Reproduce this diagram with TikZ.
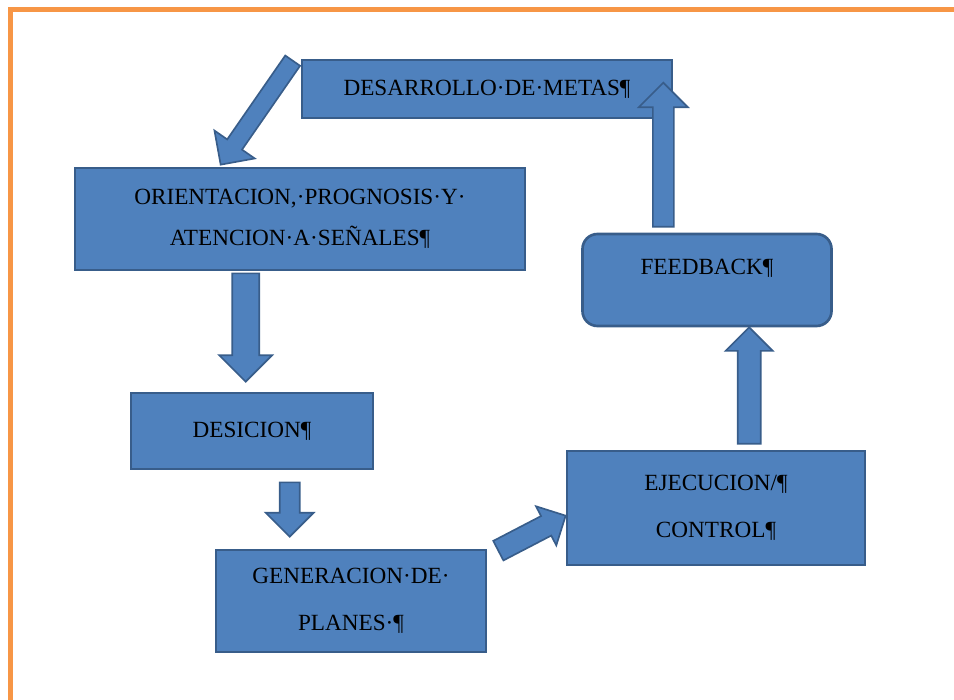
\documentclass[tikz,border=0pt]{standalone}
\usepackage{fontspec}
\setmainfont{Liberation Serif}
\usetikzlibrary{calc}
\definecolor{boxblue}{RGB}{79,129,189}
\definecolor{boxline}{RGB}{56,93,138}
\definecolor{frameorange}{RGB}{247,150,70}
\tikzset{
  barrow/.style 2 args={fill=boxblue,draw=boxline,line width=0.5mm,line join=miter,
    to path={let \p1=(\tikztostart), \p2=(\tikztotarget),
      \p3=($(\p2)!#2/2!(\p1)$) in
      ($(\p1)!#1/2!90:(\p2)$) -- ($(\p3)!#1/2!90:(\p2)$) -- ($(\p3)!#2/2!90:(\p2)$)
      -- (\p2) -- ($(\p3)!#2/2!-90:(\p2)$) -- ($(\p3)!#1/2!-90:(\p2)$)
      -- ($(\p1)!#1/2!-90:(\p2)$) -- cycle}}
}
\begin{document}
\begin{tikzpicture}[x=0.3mm,y=-0.3mm]
  \tikzstyle{every node}=[draw=boxline,fill=boxblue,line width=0.8mm,inner sep=0pt,align=center,font=\fontsize{19.8}{40}\selectfont]
  \useasboundingbox (0,0) rectangle (954,700);
  \draw[frameorange,line width=1.5mm] (10,700) -- (10,10) -- (954,10);
  % boxes
  \draw (487,89) node [minimum width=111mm,minimum height=17.4mm] (metas) {DESARROLLO·DE·METAS¶};
  \draw (300,219) node [minimum width=135mm,minimum height=30.6mm,font=\fontsize{19.8}{35}\selectfont] (orient) {ORIENTACION,·PROGNOSIS·Y·\\ATENCION·A·SEÑALES¶};
  \draw (707,280) node [minimum width=74.7mm,minimum height=27.6mm,rounded corners=4.5mm,text height=4.5mm,text depth=7.8mm] (feed) {FEEDBACK¶};
  \draw (252,431) node [minimum width=72.6mm,minimum height=22.8mm] (dec) {DESICION¶};
  \draw (351,601) node [minimum width=81mm,minimum height=30.6mm] (plan) {GENERACION·DE·\\PLANES·¶};
  \draw (716,508) node [minimum width=89.4mm,minimum height=34.2mm] (ejec) {EJECUCION/¶\\CONTROL¶};
  % block arrows
  \path[barrow={5.4mm}{14.7mm}] ($(metas.north west)+(-8,2)$) to ($(orient.north west)+(147,-2)$);
  \path[barrow={8.1mm}{15.9mm}] ($(orient.south -| dec.north west)+(116,2)$) to ($(dec.north west)+(116,-10)$);
  \path[barrow={6mm}{14.4mm}] ($(dec.south -| plan.north west)+(75,12)$) to ($(plan.north west)+(75,-12)$);
  \path[barrow={6.6mm}{13.2mm}] ($(plan.north east)+(11,2)$) to ($(ejec.north west)+(0,66)$);
  \path[barrow={6.9mm}{14.1mm}] ($(ejec.north -| feed.south west)+(168,-6)$) to ($(feed.south west)+(168,0)$);
  \path[barrow={6.3mm}{14.7mm}] ($(feed.north -| metas.north east)+(-10,-6)$) to ($(metas.north east)+(-10,24)$);
\end{tikzpicture}
\end{document}
